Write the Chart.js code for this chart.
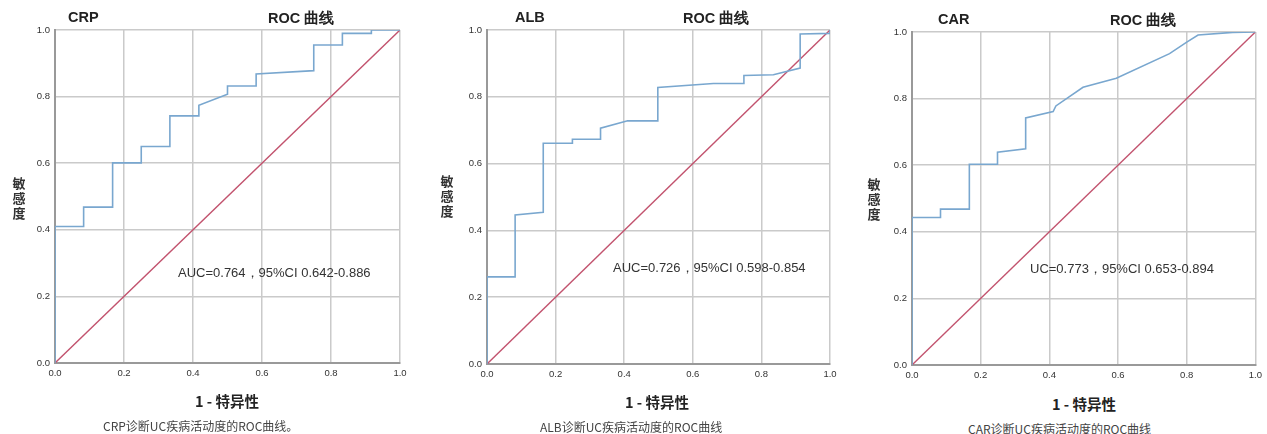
<!DOCTYPE html>
<html lang="zh">
<head>
<meta charset="UTF-8">
<title>ROC 曲线</title>
<script src="https://cdn.jsdelivr.net/npm/chart.js"></script>
<style>
  body { margin: 0; background: #fff; width: 1267px; height: 434px; position: relative; overflow: hidden;
         font-family: "Liberation Sans", Arial, sans-serif; }
  canvas { position: absolute; top: 0; }
  .t { position: absolute; white-space: nowrap; color: #222; }
  .head { font-weight: bold; font-size: 14.5px; }
  .ylab { font-family: "Noto Sans CJK SC", sans-serif; font-weight: bold; font-size: 13px; line-height: 15px; width: 16px; text-align: center; color: #333; white-space: normal; }
  .xlab { font-family: "Noto Sans CJK SC", sans-serif; font-weight: bold; font-size: 14.5px; color: #222; }
  .cap { font-family: "Noto Sans CJK SC", sans-serif; font-size: 12px; line-height: 12px; color: #444; }
  .auc { font-size: 13px; color: #333; }
</style>
</head>
<body>
<canvas id="crpChart"></canvas>
<canvas id="albChart"></canvas>
<canvas id="carChart"></canvas>

<div class="t head" style="left:68px;top:9px">CRP</div>
<div class="t head" style="left:268px;top:9px">ROC 曲线</div>
<div class="t ylab" style="left:11px;top:175px">敏<br>感<br>度</div>
<div class="t auc" style="left:178px;top:264px">AUC=0.764，95%CI 0.642-0.886</div>
<div class="t xlab" style="left:195px;top:390px">1 - 特异性</div>
<div class="t cap" style="left:103px;top:420px">CRP诊断UC疾病活动度的ROC曲线。</div>

<div class="t head" style="left:515px;top:9px">ALB</div>
<div class="t head" style="left:683px;top:9px">ROC 曲线</div>
<div class="t ylab" style="left:439px;top:173px">敏<br>感<br>度</div>
<div class="t auc" style="left:613px;top:259px">AUC=0.726，95%CI 0.598-0.854</div>
<div class="t xlab" style="left:625px;top:391px">1 - 特异性</div>
<div class="t cap" style="left:540px;top:421px">ALB诊断UC疾病活动度的ROC曲线</div>

<div class="t head" style="left:938px;top:11px">CAR</div>
<div class="t head" style="left:1110px;top:11px">ROC 曲线</div>
<div class="t ylab" style="left:866px;top:176px">敏<br>感<br>度</div>
<div class="t auc" style="left:1030px;top:260px">UC=0.773，95%CI 0.653-0.894</div>
<div class="t xlab" style="left:1052px;top:393px">1 - 特异性</div>
<div class="t cap" style="left:968px;top:423px">CAR诊断UC疾病活动度的ROC曲线</div>

<script>
  // values: 1 - specificity (x) and sensitivity (y)
  const crpFpr = [0, 0, 0.083, 0.083, 0.167, 0.167, 0.25, 0.25, 0.333, 0.333, 0.417, 0.417, 0.5, 0.5, 0.583, 0.583, 0.75, 0.75, 0.833, 0.833, 0.917, 0.917, 1];
  const crpTpr = [0, 0.41, 0.41, 0.468, 0.468, 0.601, 0.601, 0.65, 0.65, 0.742, 0.742, 0.774, 0.807, 0.832, 0.832, 0.868, 0.878, 0.955, 0.955, 0.99, 0.99, 1, 1];

  const albFpr = [0, 0, 0.082, 0.082, 0.164, 0.164, 0.249, 0.249, 0.331, 0.331, 0.41, 0.498, 0.498, 0.66, 0.749, 0.749, 0.835, 0.913, 0.913, 1, 1];
  const albTpr = [0, 0.261, 0.261, 0.446, 0.454, 0.661, 0.661, 0.673, 0.673, 0.706, 0.728, 0.728, 0.828, 0.84, 0.84, 0.864, 0.866, 0.886, 0.988, 0.99, 1];

  const carFpr = [0, 0, 0.083, 0.083, 0.167, 0.167, 0.249, 0.249, 0.331, 0.331, 0.411, 0.419, 0.498, 0.595, 0.75, 0.799, 0.833, 0.934, 1];
  const carTpr = [0, 0.443, 0.443, 0.468, 0.468, 0.603, 0.603, 0.639, 0.649, 0.742, 0.761, 0.778, 0.834, 0.861, 0.935, 0.969, 0.991, 0.999, 1];

  const refX = [0, 1];
  const refY = [0, 1];
  const tickValues = [0, 0.2, 0.4, 0.6, 0.8, 1.0];

  const CANVAS_H = 392;
  const Y_AXIS_W = 40;
  const X_AXIS_H = 20;

  function toPoints(xs, ys) {
    return xs.map((x, i) => ({ x: x, y: ys[i] }));
  }

  function makePanel(id, left, width, plot, fpr, tpr) {
    const el = document.getElementById(id);
    el.style.left = left + 'px';
    el.style.width = width + 'px';
    el.style.height = CANVAS_H + 'px';
    el.width = width;
    el.height = CANVAS_H;

    const axisCommon = {
      type: 'linear',
      min: 0,
      max: 1,
      afterBuildTicks: (axis) => { axis.ticks = tickValues.map(v => ({ value: v })); },
      grid: { color: '#cacaca', lineWidth: 1.5, drawTicks: false },
      border: { color: '#999', width: 2 },
      ticks: {
        color: '#333',
        font: { family: 'Liberation Sans', size: 9.5 },
        callback: v => v.toFixed(1)
      }
    };

    return new Chart(el.getContext('2d'), {
      type: 'scatter',
      data: {
        datasets: [
          {
            data: toPoints(fpr, tpr),
            showLine: true,
            borderColor: '#79a7cf',
            borderWidth: 1.6,
            pointRadius: 0,
            tension: 0
          },
          {
            data: toPoints(refX, refY),
            showLine: true,
            borderColor: '#c2536e',
            borderWidth: 1.4,
            pointRadius: 0
          }
        ]
      },
      options: {
        responsive: false,
        animation: false,
        layout: {
          padding: {
            left: plot.left - left - Y_AXIS_W,
            right: left + width - plot.right,
            top: plot.top,
            bottom: CANVAS_H - plot.bottom - X_AXIS_H
          }
        },
        plugins: { legend: { display: false }, tooltip: { enabled: false } },
        scales: {
          x: Object.assign({}, axisCommon, {
            afterFit: (s) => { s.height = X_AXIS_H; },
            ticks: Object.assign({}, axisCommon.ticks, { padding: 5, maxRotation: 0 })
          }),
          y: Object.assign({}, axisCommon, {
            afterFit: (s) => { s.width = Y_AXIS_W; },
            ticks: Object.assign({}, axisCommon.ticks, { padding: 5 })
          })
        }
      }
    });
  }

  makePanel('crpChart', 0, 420, { left: 55, right: 400, top: 30, bottom: 363 }, crpFpr, crpTpr);
  makePanel('albChart', 420, 430, { left: 487, right: 830, top: 30, bottom: 364 }, albFpr, albTpr);
  makePanel('carChart', 850, 417, { left: 912, right: 1256, top: 32, bottom: 365 }, carFpr, carTpr);
</script>
</body>
</html>
